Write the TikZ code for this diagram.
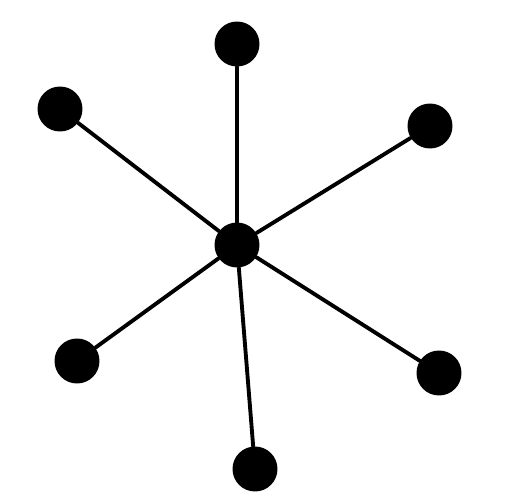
\documentclass[tikz,border=0pt]{standalone}
\begin{document}
\begin{tikzpicture}[x=0.02cm, y=-0.02cm, line join=round, line cap=round,
		vertex/.style={circle, fill=black, inner sep=0pt, minimum size=0.9cm},
		edge/.style={line width=2.2pt}]
			\useasboundingbox (0,0) rectangle (512,503);
			
			\node[vertex] (c) at (237,245) {};
			\node[vertex] (t) at (237,44) {};
			\node[vertex] (ul) at (60,109) {};
			\node[vertex] (ur) at (430,126) {};
			\node[vertex] (ll) at (77,361) {};
			\node[vertex] (lr) at (439,373) {};
			\node[vertex] (b) at (255,469) {};
			
			\draw[edge] (c)--(t);
			\draw[edge] (c)--(ul);
			\draw[edge] (c)--(ur);
			\draw[edge] (c)--(ll);
			\draw[edge] (c)--(lr);
			\draw[edge] (c)--(b);
	\end{tikzpicture}
\end{document}
